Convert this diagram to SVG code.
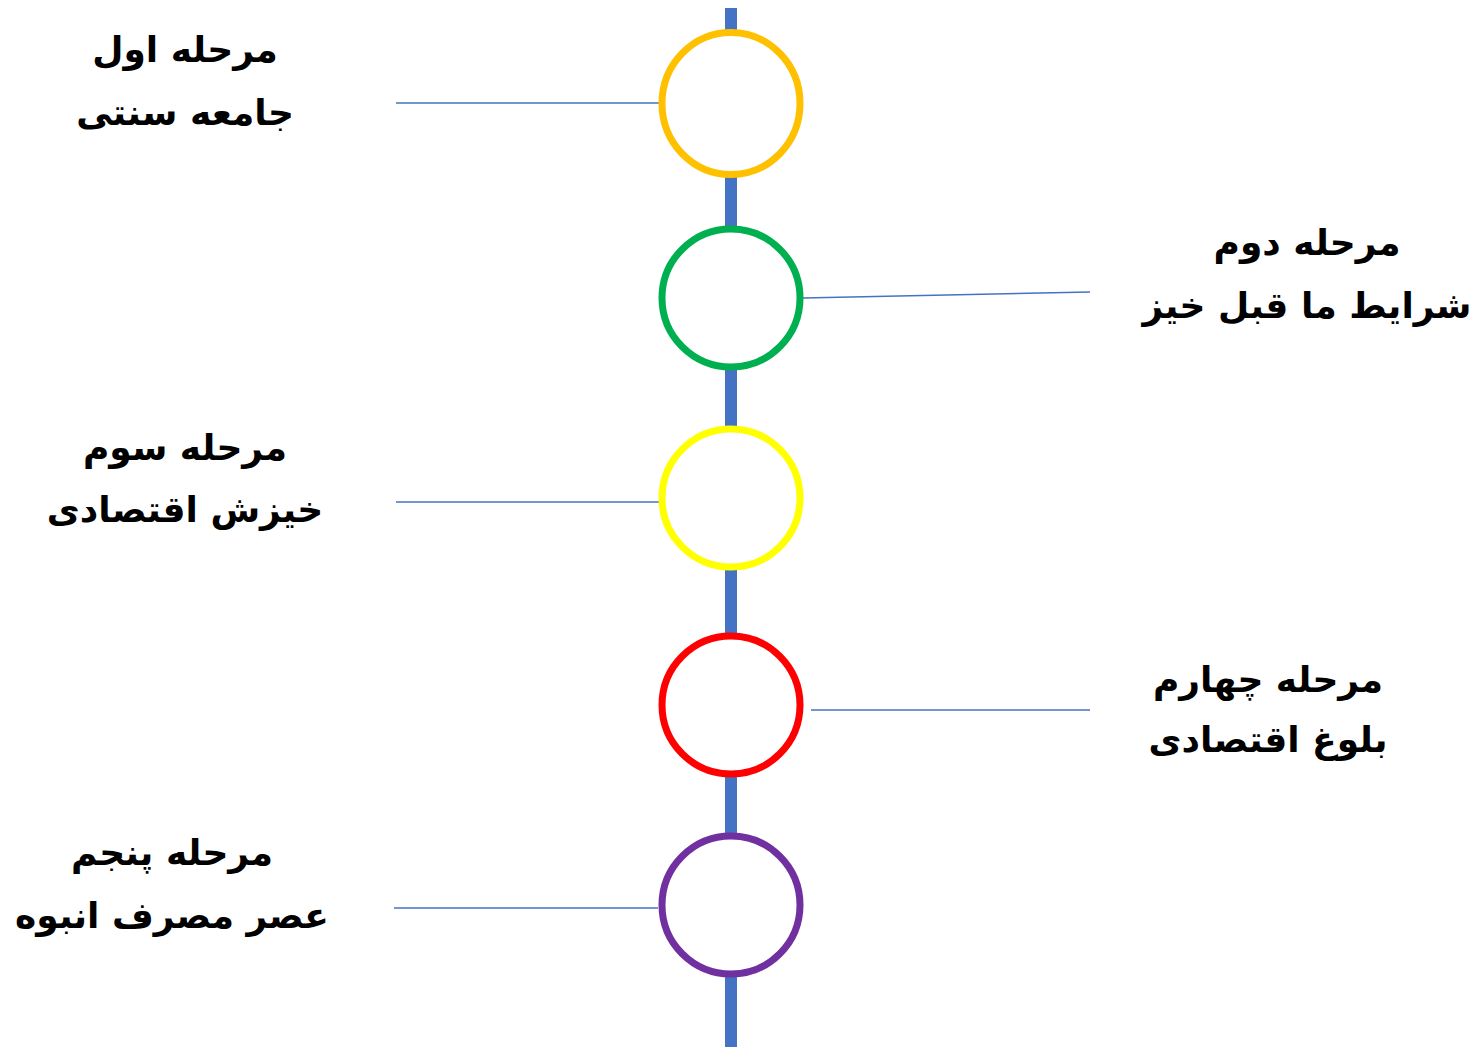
<svg xmlns="http://www.w3.org/2000/svg" width="1479" height="1047" viewBox="0 0 1479 1047">
<style>
.t{font-family:"DejaVu Sans","Noto Sans",sans-serif;font-weight:bold;font-size:36px;fill:#000;text-anchor:middle;direction:rtl}
.c{fill:#fff;stroke-width:7}
.l{stroke:#4472C4;stroke-width:1.5;fill:none}
</style>
<rect width="1479" height="1047" fill="#fff"/>
<g id="spine"><line x1="731" y1="8" x2="731" y2="1047" stroke="#4472C4" stroke-width="12"/></g>
<g id="connectors">
<line class="l" x1="396" y1="103" x2="660" y2="103"/>
<line class="l" x1="803" y1="298" x2="1090" y2="292"/>
<line class="l" x1="396" y1="502" x2="660" y2="502"/>
<line class="l" x1="811" y1="710" x2="1090" y2="710"/>
<line class="l" x1="394" y1="908" x2="658" y2="908"/>
</g>
<g id="node1"><ellipse class="c" cx="731" cy="103.5" rx="69" ry="71" stroke="#FFC000"/>
<text class="t" x="185" y="62">مرحله اول</text><text class="t" x="185" y="125">جامعه سنتی</text></g>
<g id="node2"><circle class="c" cx="731" cy="298" r="69" stroke="#00B050"/>
<text class="t" x="1307" y="255">مرحله دوم</text><text class="t" x="1307" y="318">شرایط ما قبل خیز</text></g>
<g id="node3"><circle class="c" cx="731" cy="498" r="69" stroke="#FFFF00"/>
<text class="t" x="185" y="460">مرحله سوم</text><text class="t" x="185" y="522">خیزش اقتصادی</text></g>
<g id="node4"><circle class="c" cx="731" cy="705" r="69" stroke="#FF0000"/>
<text class="t" x="1268" y="692">مرحله چهارم</text><text class="t" x="1268" y="752">بلوغ اقتصادی</text></g>
<g id="node5"><circle class="c" cx="731" cy="905" r="69" stroke="#7030A0"/>
<text class="t" x="172" y="865">مرحله پنجم</text><text class="t" x="172" y="928">عصر مصرف انبوه</text></g>
</svg>
